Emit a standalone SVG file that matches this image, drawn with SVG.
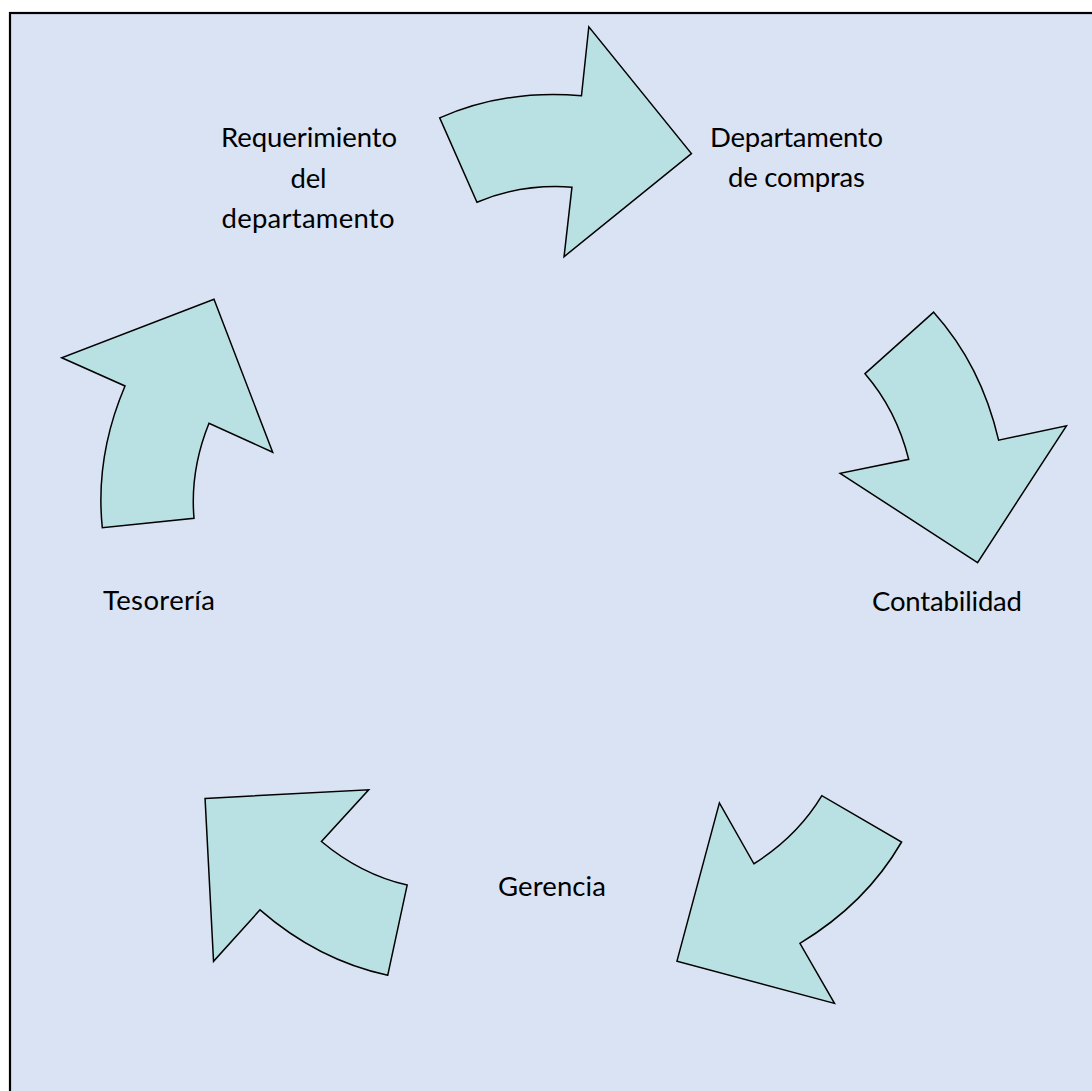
<svg xmlns="http://www.w3.org/2000/svg" xmlns:xlink="http://www.w3.org/1999/xlink" width="1092" height="1091" viewBox="0 0 1092 1091">
  <style>
    .panel { fill: #dae3f3; stroke: #000000; stroke-width: 2.2; }
    .arrow { fill: #b9e0e3; stroke: #000000; stroke-width: 1.5; stroke-linejoin: miter; }
    .label { font-family: Lato, "Open Sans", "Liberation Sans", sans-serif; font-size: 27.5px; fill: #000000; text-anchor: middle; }
  </style>
  <defs>
    <!-- one curved cycle arrow; the others are rotations of it about the ring centre (553,555) -->
    <path id="cycleArrow" class="arrow" d="M 214,299.3 L 272.7,452.3 L 209,423.3 Q 189.9,470.6 194,518.3 L 102.3,527.7 Q 95,456.6 125,386 L 61.7,357.7 Z"/>
  </defs>

  <rect x="0" y="0" width="1092" height="1091" fill="#ffffff"/>
  <rect class="panel" x="10" y="13" width="1100" height="1100"/>

  <g id="connectors">
    <use id="arrow-req-compras" xlink:href="#cycleArrow" href="#cycleArrow" transform="rotate(72 553 555)"/>
    <use id="arrow-compras-contab" xlink:href="#cycleArrow" href="#cycleArrow" transform="rotate(144 553 555)"/>
    <use id="arrow-contab-gerencia" xlink:href="#cycleArrow" href="#cycleArrow" transform="rotate(216 553 555)"/>
    <use id="arrow-gerencia-tesoreria" xlink:href="#cycleArrow" href="#cycleArrow" transform="rotate(288 553 555)"/>
    <use id="arrow-tesoreria-req" xlink:href="#cycleArrow" href="#cycleArrow"/>
  </g>

  <g id="node-requerimiento">
    <text class="label" x="309" y="147" textLength="176">Requerimiento</text>
    <text class="label" x="308.5" y="187.5" textLength="36">del</text>
    <text class="label" x="308" y="228" textLength="173">departamento</text>
  </g>
  <g id="node-compras">
    <text class="label" x="796.5" y="146.5" textLength="173">Departamento</text>
    <text class="label" x="796.5" y="187" textLength="137">de compras</text>
  </g>
  <g id="node-contabilidad">
    <text class="label" x="947" y="610.5" textLength="150">Contabilidad</text>
  </g>
  <g id="node-gerencia">
    <text class="label" x="552" y="895.5" textLength="108">Gerencia</text>
  </g>
  <g id="node-tesoreria">
    <text class="label" x="159" y="610" textLength="112">Tesorería</text>
  </g>
</svg>
